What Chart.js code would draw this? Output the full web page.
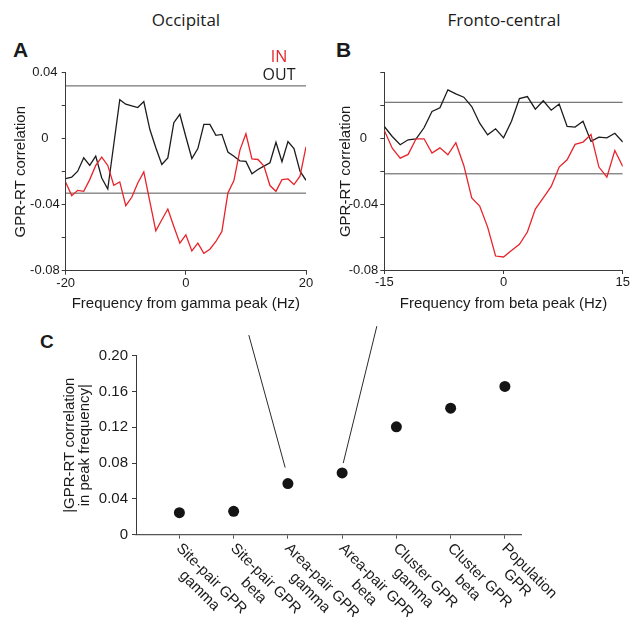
<!DOCTYPE html>
<html>
<head>
<meta charset="utf-8">
<script src="https://cdn.jsdelivr.net/npm/chart.js@4.4.0/dist/chart.umd.min.js"></script>
<style>
  body { margin: 0; background: #fff; }
  #page { position: relative; width: 631px; height: 617px; overflow: hidden; font-family: "Liberation Sans", Arial, sans-serif; color: #1a1a1a; }
  canvas { position: absolute; }
  .lbl { position: absolute; white-space: nowrap; }
  .panel { font-weight: bold; font-size: 21px; line-height: 24px; }
  .region { font-family: "Open Sans"; font-size: 17px; line-height: 20px; transform: translateX(-50%); }
</style>
</head>
<body>
<div id="page">
  <div class="lbl region" style="left:186px; top:10px">Occipital</div>
  <div class="lbl region" style="left:504px; top:10px">Fronto-central</div>
  <div class="lbl panel" style="left:13px; top:38px">A</div>
  <div class="lbl panel" style="left:336px; top:38px">B</div>
  <div class="lbl panel" style="left:40px; top:331px; font-size:19px; line-height:22px">C</div>
  <canvas id="graphA" width="315" height="320" style="left:0; top:0"></canvas>
  <canvas id="graphB" width="311" height="320" style="left:320px; top:0"></canvas>
  <canvas id="graphC" width="631" height="297" style="left:0; top:320px"></canvas>
</div>
<script>
// panel A: occipital, frequency relative to gamma peak
const freqA = [-20, -19, -18, -17, -16, -15, -14, -13, -12, -11, -10, -9, -8, -7, -6, -5, -4, -3, -2, -1,
    0, 1, 2, 3, 4, 5, 6, 7, 8, 9, 10, 11, 12, 13, 14, 15, 16, 17, 18, 19, 20]
const inA = [-0.0264, -0.0345, -0.0313, -0.0319, -0.0248, -0.0162, -0.0112, -0.0162, -0.0282, -0.0262,
    -0.0406, -0.0355, -0.0268, -0.0201, -0.038, -0.0558, -0.0491, -0.0426, -0.0532, -0.0633,
    -0.0583, -0.068, -0.0633, -0.0694, -0.067, -0.0623, -0.0562, -0.0329, -0.0254, -0.0069,
    0.003, -0.0122, -0.0126, -0.0166, -0.0284, -0.0319, -0.0248, -0.0244, -0.0278, -0.0227, -0.0049]
const outA = [-0.0242, -0.0233, -0.0197, -0.0116, -0.0162, -0.0106, -0.0238, -0.0305, -0.0035, 0.0236,
    0.0209, 0.0199, 0.0189, 0.0225, 0.0057, -0.0055, -0.0156, -0.0116, 0.0097, 0.0148,
    0.0012, -0.012, -0.006, 0.0087, 0.0087, 0.002, 0.0026, -0.0081, -0.0106, -0.0134,
    -0.0138, -0.0213, -0.0187, -0.0166, -0.0146, -0.0022, -0.014, -0.0017, -0.006, -0.0197, -0.0252]
const sigA = [0.032, -0.033]

// panel B: fronto-central, frequency relative to beta peak
const freqB = [-15, -14, -13, -12, -11, -10, -9, -8, -7, -6, -5, -4, -3, -2, -1,
    0, 1, 2, 3, 4, 5, 6, 7, 8, 9, 10, 11, 12, 13, 14, 15]
const inB = [0.0049, -0.0059, -0.012, -0.0097, -0.0002, -0.0002, -0.0089, -0.0057, -0.0099, -0.0026,
    -0.0164, -0.0362, -0.0411, -0.0539, -0.0715, -0.0721, -0.0682, -0.0644, -0.0569, -0.0429,
    -0.0362, -0.0292, -0.0174, -0.013, -0.0036, -0.0022, 0.0024, -0.0174, -0.0235, -0.0073, -0.017]
const outB = [0.0073, 0.0012, -0.0038, -0.0008, -0.0002, 0.0065, 0.0164, 0.0186, 0.0296, 0.0271,
    0.0251, 0.0194, 0.0093, 0.0022, 0.0059, 0.0004, 0.0105, 0.0243, 0.0255, 0.0178,
    0.0229, 0.0172, 0.0209, 0.0073, 0.0069, 0.0105, -0.0018, 0.0008, 0.0004, 0.0032, -0.0022]
const sigB = [0.022, -0.0215]

// panel C: |GPR-RT correlation| at the peak frequency
const catC = [['Site-pair GPR', 'gamma'], ['Site-pair GPR', 'beta'], ['Area-pair GPR', 'gamma'],
    ['Area-pair GPR', 'beta'], ['Cluster GPR', 'gamma'], ['Cluster GPR', 'beta'], ['Population', 'GPR']]
const valC = [0.0246, 0.0261, 0.0571, 0.069, 0.1205, 0.1414, 0.1657]
// the two thin pointer lines, in panel C data units
const guideFrom = [[2.28, 0.223], [4.64, 0.233]]
const guideTo = [[2.95, 0.075], [4.02, 0.080]]

const red = '#e8232a'
const black = '#1c1c1c'
const axisColor = '#3a3a3a'
const textColor = '#1a1a1a'
const family = '"Liberation Sans", Arial, sans-serif'

Chart.defaults.font.family = family
Chart.defaults.color = textColor

function toPoints(xs, ys){
    return ys.map((y, i) => ({x: xs[i], y: y}))
}

function levelLine(xs, level){
    return {
        data: [{x: xs[0], y: level}, {x: xs[xs.length - 1], y: level}],
        borderColor: '#555',
        borderWidth: 1,
        pointRadius: 0
    }
}

// labels every 0.04, bare ticks every 0.02
function corrLabel(v, hideTop){
    let k = Math.round(v / 0.02)
    if(k % 2 !== 0) return ''
    if(hideTop && k === 2) return ''
    return k === 0 ? '0' : (k * 0.02).toFixed(2)
}

const keyPlugin = {
    id: 'key',
    afterDraw(chart, args, opts){
        const ctx = chart.ctx
        ctx.save()
        ctx.font = '16px "Open Sans"'
        ctx.textAlign = 'center'
        ctx.textBaseline = 'alphabetic'
        chart.data.datasets.filter(d => d.inKey).forEach((d, i) => {
            ctx.fillStyle = d.borderColor
            ctx.fillText(d.label, opts.x, opts.y + i * opts.gap)
        })
        ctx.restore()
    }
}

function spectrumChart(id, freq, inVals, outVals, sig, cfg){
    const canvas = document.getElementById(id)
    return new Chart(canvas, {
        type: 'line',
        data: {
            datasets: [
                {label: 'IN', inKey: true, data: toPoints(freq, inVals), borderColor: red, borderWidth: 1.3, pointRadius: 0, tension: 0},
                {label: 'OUT', inKey: true, data: toPoints(freq, outVals), borderColor: black, borderWidth: 1.3, pointRadius: 0, tension: 0},
                levelLine(freq, sig[0]),
                levelLine(freq, sig[1])
            ]
        },
        options: {
            responsive: false,
            animation: false,
            events: [],
            layout: {padding: {top: 72.7, right: cfg.padRight, left: 0, bottom: 0}},
            plugins: {legend: {display: false}, tooltip: {enabled: false}, key: cfg.key || false},
            scales: {
                x: {
                    type: 'linear',
                    min: freq[0],
                    max: freq[freq.length - 1],
                    afterFit: s => { s.height = cfg.xHeight },
                    border: {color: axisColor, width: 1},
                    grid: {drawOnChartArea: false, tickLength: 4, color: axisColor},
                    ticks: {stepSize: cfg.xStep, padding: 1, maxRotation: 0, font: {size: 13}, color: textColor},
                    title: {display: true, text: cfg.xTitle, font: {size: 15}, color: textColor, padding: {top: 0, bottom: 7}}
                },
                y: {
                    min: -0.08,
                    max: 0.04,
                    afterFit: s => { s.width = cfg.yWidth },
                    border: {color: axisColor, width: 1},
                    grid: {drawOnChartArea: false, tickLength: 4, color: axisColor},
                    ticks: {stepSize: 0.02, padding: 2, crossAlign: 'center', font: {size: 13}, color: textColor,
                        callback: v => corrLabel(v, cfg.hideTop)},
                    title: {display: true, text: 'GPR-RT correlation', font: {size: 15}, color: textColor, padding: {top: cfg.yTitlePad, bottom: 0}}
                }
            }
        },
        plugins: cfg.key ? [keyPlugin] : []
    })
}

spectrumChart('graphA', freqA, inA, outA, sigA, {
    padRight: 9, xHeight: 49.3, yWidth: 65.7, xStep: 20, yTitlePad: 11.6, hideTop: false,
    xTitle: 'Frequency from gamma peak (Hz)',
    key: {x: 279, y: 62.3, gap: 17.7}
})

spectrumChart('graphB', freqB, inB, outB, sigB, {
    padRight: 6.3, xHeight: 50, yWidth: 64.3, xStep: 15, yTitlePad: 16.6, hideTop: true,
    xTitle: 'Frequency from beta peak (Hz)'
})

// slanted two-line category labels under panel C
const slantPlugin = {
    id: 'slant',
    afterDraw(chart){
        const ctx = chart.ctx
        const xs = chart.scales.x
        ctx.save()
        ctx.font = '15px ' + family
        ctx.fillStyle = textColor
        ctx.textAlign = 'center'
        ctx.textBaseline = 'top'
        catC.forEach((lines, i) => {
            const px = xs.getPixelForValue(i + 1)
            const w = Math.max(...lines.map(l => ctx.measureText(l).width))
            ctx.save()
            ctx.translate(px + 4.5, chart.chartArea.bottom + 6)
            ctx.rotate(Math.PI / 4)
            lines.forEach((l, j) => ctx.fillText(l, w / 2, j * 17))
            ctx.restore()
        })
        ctx.restore()
    }
}

const guidePlugin = {
    id: 'guides',
    afterDatasetsDraw(chart){
        const ctx = chart.ctx
        const xs = chart.scales.x
        const ys = chart.scales.y
        ctx.save()
        ctx.strokeStyle = '#2a2a2a'
        ctx.lineWidth = 1
        guideFrom.forEach((p, i) => {
            const q = guideTo[i]
            ctx.beginPath()
            ctx.moveTo(xs.getPixelForValue(p[0]), ys.getPixelForValue(p[1]))
            ctx.lineTo(xs.getPixelForValue(q[0]), ys.getPixelForValue(q[1]))
            ctx.stroke()
        })
        ctx.restore()
    }
}

new Chart(document.getElementById('graphC'), {
    type: 'scatter',
    data: {
        datasets: [{
            data: valC.map((v, i) => ({x: i + 1, y: v})),
            pointRadius: 5.5,
            pointBackgroundColor: '#141414',
            pointBorderWidth: 0
        }]
    },
    options: {
        responsive: false,
        animation: false,
        events: [],
        layout: {padding: {top: 35.7, right: 109.3, left: 0, bottom: 0}},
        plugins: {legend: {display: false}, tooltip: {enabled: false}},
        scales: {
            x: {
                type: 'linear',
                min: 0.2,
                max: 7.31,
                afterBuildTicks: s => { s.ticks = catC.map((c, i) => ({value: i + 1})) },
                afterFit: s => { s.height = 82.3 },
                border: {color: '#555', width: 1.3},
                grid: {drawOnChartArea: false, tickLength: 4, color: '#555'},
                ticks: {display: false}
            },
            y: {
                min: 0,
                max: 0.2,
                afterFit: s => { s.width = 136 },
                border: {color: axisColor, width: 1},
                grid: {drawOnChartArea: false, tickLength: 4, color: axisColor},
                ticks: {stepSize: 0.02, padding: 4, crossAlign: 'near', font: {size: 15}, color: textColor,
                    callback: v => {
                        let k = Math.round(v / 0.02)
                        if(k % 2 !== 0) return ''
                        return k === 0 ? '0' : (k * 0.02).toFixed(2)
                    }},
                title: {display: true, text: ['|GPR-RT correlation', 'in peak frequency|'],
                    font: {size: 15, lineHeight: 1.0}, color: textColor, padding: {top: 62.5, bottom: 0}}
            }
        }
    },
    plugins: [slantPlugin, guidePlugin]
})
</script>
</body>
</html>
